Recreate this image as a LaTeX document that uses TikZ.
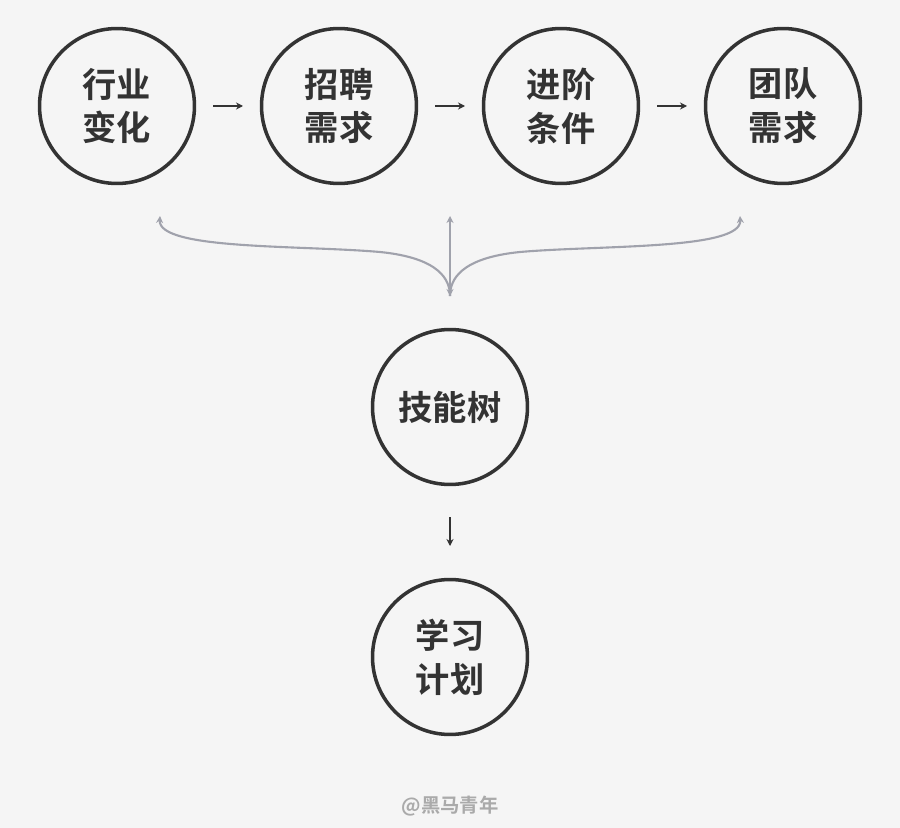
\documentclass[tikz,border=0pt]{standalone}
\usepackage{fontspec}
\setmainfont{Noto Sans CJK SC}[BoldFont={* Bold}]
\usetikzlibrary{arrows.meta}
\definecolor{ink}{RGB}{51, 51, 51}
\definecolor{bracegrey}{RGB}{160, 162, 172}
\definecolor{paper}{RGB}{245, 245, 245}
\definecolor{markgrey}{RGB}{170, 170, 170}

\begin{document}
\begin{tikzpicture}
  [
    x=0.02cm, y=-0.02cm,
    topic/.style={circle, draw=ink, line width=2pt, minimum size=3.1cm, inner sep=0pt,
      text=ink, font=\fontsize{19.5}{25}\selectfont\bfseries, align=center},
    flow/.style={-{Stealth[length=4pt, width=4pt]}, ink, line width=0.7pt},
    link/.style={bracegrey, line width=1.2pt, {Stealth[length=4pt, width=4pt]}-}
  ]
  \fill[paper] (0, 0) rectangle (900, 828);

  \node[topic] (trend) at (117, 106) {行业\\变化};
  \node[topic] (hire)  at (339, 106) {招聘\\需求};
  \node[topic] (promo) at (561, 106) {进阶\\条件};
  \node[topic] (team)  at (783, 106) {团队\\需求};
  \node[topic] (skill) at (450, 407) {技能树};
  \node[topic] (plan)  at (450, 657) {学习\\计划};

  \draw[flow] (213, 106) -- (243, 106);
  \draw[flow] (435, 106) -- (465, 106);
  \draw[flow] (657, 106) -- (687, 106);
  \draw[flow] (450, 517) -- (450, 546);

  % merge of the four sources
  \coordinate (join) at (450, 296);
  \draw[link] (160, 216) .. controls (158, 250) and (300, 245) .. (380, 252)
    .. controls (440, 258) and (450, 280) .. (join);
  \draw[link] (740, 216) .. controls (742, 250) and (600, 245) .. (520, 252)
    .. controls (460, 258) and (450, 280) .. (join);
  \draw[link, {Stealth[length=4pt, width=4pt]}-{Stealth[length=4pt, width=4pt]}] (450, 216) -- (join);

  \node[text=markgrey, font=\fontsize{11}{13}\selectfont\bfseries] (mark) at (450, 806) {@黑马青年};
\end{tikzpicture}
\end{document}
